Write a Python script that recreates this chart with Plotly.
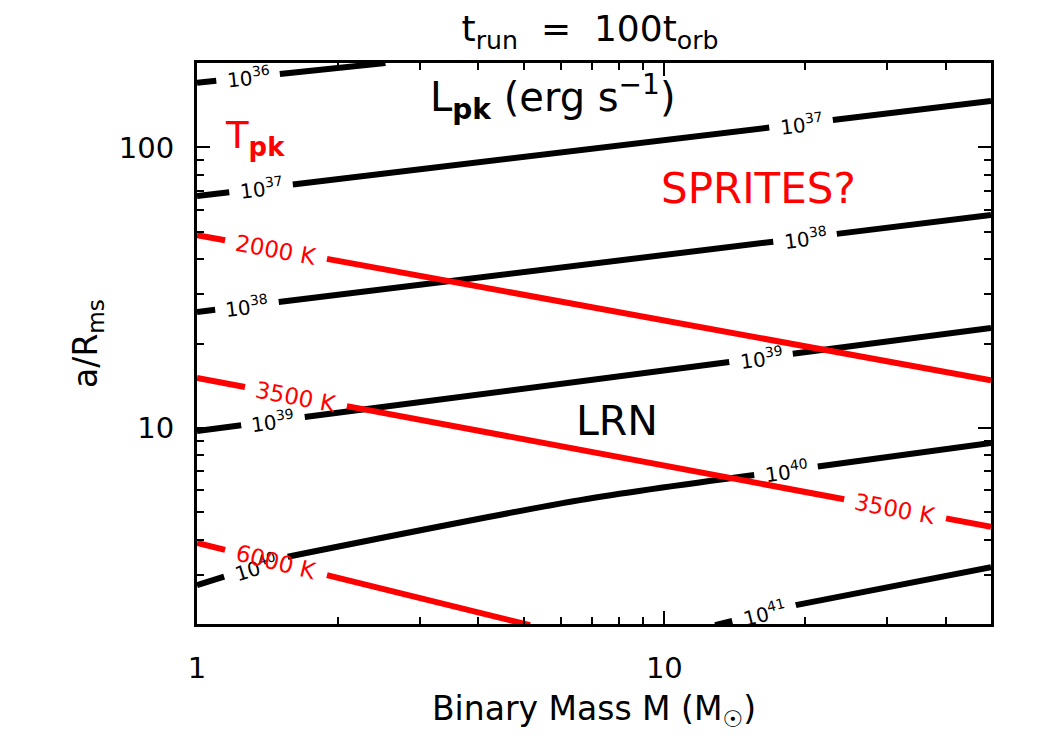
import numpy as np
import plotly.graph_objects as go

# ---- data (Binary mass M [Msun], a/R_ms) ----
# Peak luminosity contours (erg/s)
L_levels = ["10<sup>36</sup>", "10<sup>37</sup>", "10<sup>38</sup>",
            "10<sup>39</sup>", "10<sup>40</sup>", "10<sup>41</sup>"]
L36_M = [1.0, 2.53]
L36_a = [170.0, 200.0]
L37_M = [1.0, 50.0]
L37_a = [67.1, 146.4]
L38_M = [1.0, 50.0]
L38_a = [25.9, 57.4]
L39_M = [1.0, 50.0]
L39_a = [9.75, 22.7]
L40_M = [1.0, 1.557, 6.60, 15.64, 50.0]
L40_a = [2.75, 3.47, 5.53, 6.80, 8.84]
L41_M = [12.84, 19.23, 50.0]
L41_a = [1.98, 2.34, 3.19]

# Peak temperature contours (K)
T_levels = ["2000 K", "3500 K", "6000 K"]
T2000_M = [1.0, 50.0]
T2000_a = [48.7, 14.8]
T3500_M = [1.0, 50.0]
T3500_a = [15.07, 4.44]
T6000_M = [1.0, 5.16]
T6000_a = [3.89, 1.98]

x_ticks = [1, 10]
x_ticktext = ["1", "10"]
y_ticks = [10, 100]
y_ticktext = ["10", "100"]
x_minor = [2, 3, 4, 5, 6, 7, 8, 9, 20, 30, 40]
y_minor = [3, 4, 5, 6, 7, 8, 9, 20, 30, 40, 50, 60, 70, 80, 90, 200]

X_RANGE = [1.0, 50.0]
Y_RANGE = [2.0, 200.0]

# ---- layout constants ----
W, H = 1050, 750
ML, MR, MT, MB = 197, 59, 63, 126
PX_DEC_X = (W - ML - MR) / np.log10(X_RANGE[1] / X_RANGE[0])
PX_DEC_Y = (H - MT - MB) / np.log10(Y_RANGE[1] / Y_RANGE[0])

FONT = "DejaVu Sans"


def line_on(xs, ys, xc):
    lx, ly = np.log10(xs), np.log10(ys)
    return np.interp(np.log10(xc), lx, ly)


def split_with_gaps(xs, ys, gaps):
    """Break a polyline (log-log) where inline labels sit."""
    lx, ly = np.log10(xs), np.log10(ys)
    bounds = [(np.log10(c) - h, np.log10(c) + h) for c, h in gaps]
    pts = set(lx.tolist())
    for lo, hi in bounds:
        if lx[0] < lo < lx[-1]:
            pts.add(lo)
        if lx[0] < hi < lx[-1]:
            pts.add(hi)
    pts = sorted(pts)
    ox, oy = [], []
    for i in range(len(pts) - 1):
        a, b = pts[i], pts[i + 1]
        mid = 0.5 * (a + b)
        inside = any(lo <= mid <= hi for lo, hi in bounds)
        if inside:
            if ox and ox[-1] is not None:
                ox.append(None)
                oy.append(None)
            continue
        if not ox or ox[-1] is None:
            ox.append(10 ** a)
            oy.append(10 ** np.interp(a, lx, ly))
        ox.append(10 ** b)
        oy.append(10 ** np.interp(b, lx, ly))
    return ox, oy


def slope_angle(xs, ys, xc):
    lx, ly = np.log10(xs), np.log10(ys)
    l = np.log10(xc)
    d = 0.02
    s = (np.interp(l + d, lx, ly) - np.interp(l - d, lx, ly)) / (2 * d)
    return -np.degrees(np.arctan(s * PX_DEC_Y / PX_DEC_X))


fig = go.Figure()
annotations = []

HB = 0.068   # half gap (decades) for black labels
HR = 0.109   # half gap for red labels

black_lines = [
    (L36_M, L36_a, [(1.286, HB)], [0], "linear"),
    (L37_M, L37_a, [(1.371, HB), (19.61, HB)], [1, 1], "linear"),
    (L38_M, L38_a, [(1.279, HB), (20.0, HB)], [2, 2], "linear"),
    (L39_M, L39_a, [(1.454, HB), (16.10, HB)], [3, 3], "linear"),
    (L40_M, L40_a, [(1.337, HB), (18.21, HB)], [4, 4], "spline"),
    (L41_M, L41_a, [(16.34, HB)], [5], "spline"),
]
red_lines = [
    (T2000_M, T2000_a, [(1.476, HR)], [0], "linear"),
    (T3500_M, T3500_a, [(1.628, HR), (31.17, HR)], [1, 1], "linear"),
    (T6000_M, T6000_a, [(1.476, HR)], [2], "linear"),
]

for group, color, levels, fsize in [(black_lines, "black", L_levels, 20),
                                    (red_lines, "#ff0000", T_levels, 23)]:
    for xs, ys, gaps, idx, shape in group:
        gx, gy = split_with_gaps(xs, ys, gaps)
        fig.add_trace(go.Scatter(x=gx, y=gy, mode="lines",
                                 line=dict(color=color, width=6, shape=shape,
                                           smoothing=0.8),
                                 hoverinfo="skip", showlegend=False,
                                 connectgaps=False))
        for (xc, h), k in zip(gaps, idx):
            annotations.append(dict(
                x=np.log10(xc), y=float(line_on(xs, ys, xc)),
                xref="x", yref="y", text=levels[k], showarrow=False,
                xanchor="center", yanchor="middle",
                textangle=float(slope_angle(xs, ys, xc)),
                font=dict(family=FONT, size=fsize, color=color)))

# region / panel labels
annotations += [
    dict(x=0.76, y=2.180, xref="x", yref="y",
         text="L<sub><b>pk</b></sub> (erg s<sup>−1</sup>)", showarrow=False,
         font=dict(family=FONT, size=40, color="black")),
    dict(x=0.124, y=2.035, xref="x", yref="y",
         text="T<sub><b>pk</b></sub>", showarrow=False,
         font=dict(family=FONT, size=37, color="#ff0000")),
    dict(x=1.2005, y=1.855, xref="x", yref="y", text="SPRITES?",
         showarrow=False, font=dict(family=FONT, size=42, color="#ff0000")),
    dict(x=0.899, y=1.025, xref="x", yref="y", text="LRN",
         showarrow=False, font=dict(family=FONT, size=41, color="black")),
]

axis_common = dict(type="log", showline=True, linewidth=3, linecolor="black",
                   mirror="allticks", ticks="inside", tickwidth=2,
                   ticklen=13, tickcolor="black", showgrid=False,
                   zeroline=False, tickfont=dict(family=FONT, size=29, color="black"),
                   minor=dict(ticks="inside", ticklen=7, tickwidth=2,
                              tickcolor="black", showgrid=False, tickmode="array"))

fig.update_layout(
    width=W, height=H,
    margin=dict(l=ML, r=MR, t=MT, b=MB),
    plot_bgcolor="white", paper_bgcolor="white",
    title=dict(text="t<sub>run</sub>\u00a0\u00a0=\u00a0\u00a0100t<sub>orb</sub>",
               x=0.562, xanchor="center", y=0.962, yanchor="middle",
               font=dict(family=FONT, size=36, color="black")),
    annotations=annotations,
)
fig.update_xaxes(**axis_common)
fig.update_yaxes(**axis_common)
fig.update_xaxes(range=[np.log10(X_RANGE[0]), np.log10(X_RANGE[1])],
                 tickvals=x_ticks, ticktext=x_ticktext,
                 minor_tickvals=x_minor, ticklabelstandoff=16,
                 title=dict(text="Binary Mass M (M<sub>☉</sub>)", standoff=14,
                            font=dict(family=FONT, size=33, color="black")))
fig.update_yaxes(range=[np.log10(Y_RANGE[0]), np.log10(Y_RANGE[1])],
                 tickvals=y_ticks, ticktext=y_ticktext,
                 minor_tickvals=y_minor, ticklabelstandoff=14,
                 title=dict(text="a/R<sub>ms</sub>", standoff=12,
                            font=dict(family=FONT, size=33, color="black")))

fig.write_html("out.html")
